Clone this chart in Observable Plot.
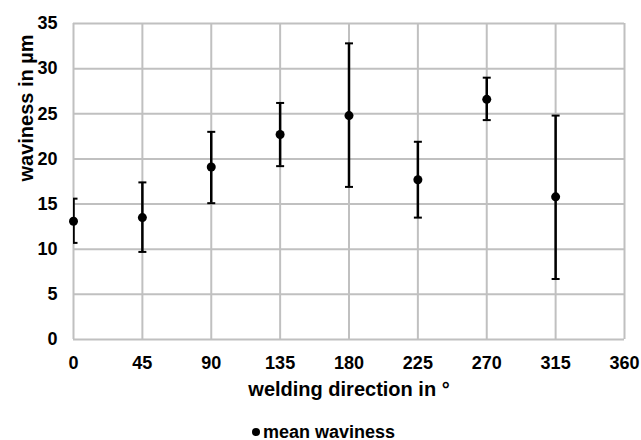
<!DOCTYPE html>
<html><head><meta charset="utf-8">
<script src="https://cdn.jsdelivr.net/npm/d3@7"></script>
<script src="https://cdn.jsdelivr.net/npm/@observablehq/plot@0.6"></script>
<style>
body{margin:0;background:#fff;overflow:hidden;font-family:"Liberation Sans",Arial,sans-serif;}
#legend{position:absolute;left:0;top:424px;width:641px;height:16px;display:flex;align-items:center;justify-content:center;font-weight:bold;font-size:18px;color:#000;padding-left:6px;box-sizing:border-box;}
#legend .dot{display:inline-block;width:8px;height:8px;border-radius:50%;background:#000;margin-right:3px;}
</style></head>
<body><div id="chart"></div><div id="legend"><span class="dot"></span><span>mean waviness</span></div>
<script>
const directions = [0, 45, 90, 135, 180, 225, 270, 315];
const meanWaviness = [13.1, 13.5, 19.1, 22.7, 24.8, 17.7, 26.6, 15.8];
const errorLow = [10.7, 9.7, 15.1, 19.2, 16.9, 13.5, 24.3, 6.7];
const errorHigh = [15.6, 17.4, 23.0, 26.2, 32.8, 21.9, 29.0, 24.8];
const xTicks = [0, 45, 90, 135, 180, 225, 270, 315, 360];
const yTicks = [0, 5, 10, 15, 20, 25, 30, 35];
const xLabel = "welding direction in °";
const yLabel = "waviness in µm";

const data = directions.map((d, i) => ({dir: d, mean: meanWaviness[i], low: errorLow[i], high: errorHigh[i]}));

const capSymbol = {draw(ctx, size) { const w = 4; ctx.moveTo(-w, 0); ctx.lineTo(w, 0); }};
const grid = "#c0c0c0";

const chart = Plot.plot({
  width: 641,
  height: 424,
  marginTop: 23,
  marginBottom: 85,
  marginLeft: 73,
  marginRight: 17,
  style: {fontFamily: "'Liberation Sans', Arial, sans-serif", fontWeight: "bold", fontSize: "18px", color: "#000", background: "#fff"},
  x: {domain: [0, 360]},
  y: {domain: [0, 35]},
  marks: [
    Plot.gridX(xTicks, {stroke: grid, strokeOpacity: 1, strokeWidth: 2}),
    Plot.gridY(yTicks, {stroke: grid, strokeOpacity: 1, strokeWidth: 2}),
    Plot.axisX(xTicks, {tickSize: 0, tickPadding: 17, label: null, fontSize: 18, fontWeight: "bold", fill: "#000"}),
    Plot.axisY(yTicks, {tickSize: 0, tickPadding: 16, label: null, fontSize: 18, fontWeight: "bold", fill: "#000"}),
    Plot.ruleX(data, {x: "dir", y1: "low", y2: "high", stroke: "#000", strokeWidth: 2.5, clip: true, ariaLabel: "errbar"}),
    Plot.dot(data, {x: "dir", y: "low", symbol: capSymbol, fill: "none", stroke: "#000", strokeWidth: 2, clip: true, ariaLabel: "caplow"}),
    Plot.dot(data, {x: "dir", y: "high", symbol: capSymbol, fill: "none", stroke: "#000", strokeWidth: 2, clip: true, ariaLabel: "caphigh"}),
    Plot.dot(data, {x: "dir", y: "mean", r: 4.5, fill: "#000", stroke: "none"}),
    Plot.text([xLabel], {frameAnchor: "bottom", dy: 50, text: d => d, fontSize: 20, fontWeight: "bold", fill: "#000", lineAnchor: "middle"}),
    Plot.text([yLabel], {frameAnchor: "left", dx: -47, rotate: -90, text: d => d, fontSize: 20, fontWeight: "bold", fill: "#000", lineAnchor: "middle"})
  ]
});
// clip error bars to the plot frame (as in the reference, half cap at x = 0)
(function () {
  const ns = "http://www.w3.org/2000/svg";
  const defs = document.createElementNS(ns, "defs");
  const cp = document.createElementNS(ns, "clipPath");
  cp.setAttribute("id", "frameclip");
  const r = document.createElementNS(ns, "rect");
  r.setAttribute("x", 73); r.setAttribute("y", 0);
  r.setAttribute("width", 641 - 73 - 17 + 20); r.setAttribute("height", 424);
  cp.appendChild(r); defs.appendChild(cp); chart.insertBefore(defs, chart.firstChild);
  chart.querySelectorAll('g[aria-label="errbar"], g[aria-label="caplow"], g[aria-label="caphigh"]').forEach(g => g.setAttribute("clip-path", "url(#frameclip)"));
})();
document.getElementById("chart").appendChild(chart);
</script>
</body></html>
